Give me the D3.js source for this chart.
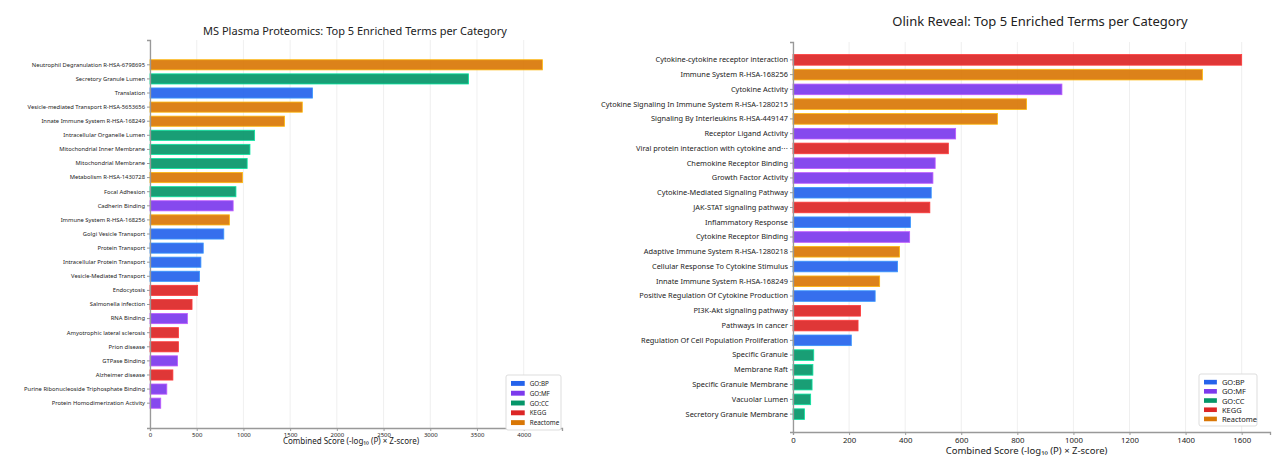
<!DOCTYPE html>
<html><head><meta charset="utf-8">
<script src="https://cdn.jsdelivr.net/npm/d3@7"></script>
<style>body{margin:0;background:#fff;font-family:"Noto Sans",sans-serif}</style>
</head><body><svg id="c" width="1280" height="468"></svg>
<script>
var categories = ["GO:BP","GO:MF","GO:CC","KEGG","Reactome"];
var colors = ["#2563eb","#7c3aed","#059669","#dc2626","#d97706"];

var msTerms = ["Neutrophil Degranulation R-HSA-6798695","Secretory Granule Lumen","Translation","Vesicle-mediated Transport R-HSA-5653656","Innate Immune System R-HSA-168249","Intracellular Organelle Lumen","Mitochondrial Inner Membrane","Mitochondrial Membrane","Metabolism R-HSA-1430728","Focal Adhesion","Cadherin Binding","Immune System R-HSA-168256","Golgi Vesicle Transport","Protein Transport","Intracellular Protein Transport","Vesicle-Mediated Transport","Endocytosis","Salmonella infection","RNA Binding","Amyotrophic lateral sclerosis","Prion disease","GTPase Binding","Alzheimer disease","Purine Ribonucleoside Triphosphate Binding","Protein Homodimerization Activity"];
var msCats = ["Reactome","GO:CC","GO:BP","Reactome","Reactome","GO:CC","GO:CC","GO:CC","Reactome","GO:CC","GO:MF","Reactome","GO:BP","GO:BP","GO:BP","GO:BP","KEGG","KEGG","GO:MF","KEGG","KEGG","GO:MF","KEGG","GO:MF","GO:MF"];
var msScores = [4200,3410,1740,1630,1440,1120,1070,1040,990,920,890,850,790,570,545,530,510,450,400,305,305,295,245,180,115];
var msTicks = [0,500,1000,1500,2000,2500,3000,3500,4000];

var olTerms = ["Cytokine-cytokine receptor interaction","Immune System R-HSA-168256","Cytokine Activity","Cytokine Signaling In Immune System R-HSA-1280215","Signaling By Interleukins R-HSA-449147","Receptor Ligand Activity","Viral protein interaction with cytokine and\u22ef","Chemokine Receptor Binding","Growth Factor Activity","Cytokine-Mediated Signaling Pathway","JAK-STAT signaling pathway","Inflammatory Response","Cytokine Receptor Binding","Adaptive Immune System R-HSA-1280218","Cellular Response To Cytokine Stimulus","Innate Immune System R-HSA-168249","Positive Regulation Of Cytokine Production","PI3K-Akt signaling pathway","Pathways in cancer","Regulation Of Cell Population Proliferation","Specific Granule","Membrane Raft","Specific Granule Membrane","Vacuolar Lumen","Secretory Granule Membrane"];
var olCats = ["KEGG","Reactome","GO:MF","Reactome","Reactome","GO:MF","KEGG","GO:MF","GO:MF","GO:BP","KEGG","GO:BP","GO:MF","Reactome","GO:BP","Reactome","GO:BP","KEGG","KEGG","GO:BP","GO:CC","GO:CC","GO:CC","GO:CC","GO:CC"];
var olScores = [1600,1460,959,833,729,580,554,507,499,493,488,419,416,380,373,309,293,241,232,208,74,71,68,63,41];
var olTicks = [0,200,400,600,800,1000,1200,1400,1600];

var svg = d3.select("#c");
var color = d3.scaleOrdinal().domain(categories).range(colors);

function drawPanel(cfg) {
  var g = svg.append("g");
  var x = d3.scaleLinear().domain([0, cfg.xmax]).range([cfg.left, cfg.right]);
  var y = d3.scaleBand().domain(cfg.terms).range([cfg.top, cfg.bottom])
            .paddingInner(0.28).paddingOuter(cfg.outer);
  g.selectAll(".grid").data(cfg.ticks).enter().append("line")
    .attr("x1", d => x(d)).attr("x2", d => x(d))
    .attr("y1", cfg.top).attr("y2", cfg.bottom)
    .attr("stroke", "#ebebeb").attr("stroke-width", 0.8);
  g.selectAll(".bar").data(cfg.scores).enter().append("rect")
    .attr("x", x(0)).attr("y", (d, i) => y(cfg.terms[i]))
    .attr("width", d => x(d) - x(0)).attr("height", y.bandwidth())
    .attr("fill", (d, i) => color(cfg.cats[i])).attr("fill-opacity", 0.92)
    .attr("stroke", (d, i) => d3.color(color(cfg.cats[i])).brighter(1.2)).attr("stroke-width", 0.8);
  var ya = g.append("g").attr("transform", "translate(" + cfg.left + ",0)")
    .call(d3.axisLeft(y).tickSize(3).tickPadding(2));
  ya.selectAll("text").attr("font-size", cfg.lab).attr("fill", "#222").attr("font-family", "Noto Sans");
  var xa = g.append("g").attr("transform", "translate(0," + cfg.bottom + ")")
    .call(d3.axisBottom(x).tickValues(cfg.ticks).tickFormat(d3.format("d")).tickSize(3).tickPadding(2));
  xa.selectAll("text").attr("font-size", cfg.tick).attr("fill", "#222").attr("font-family", "Noto Sans");
  [ya, xa].forEach(a => { a.select(".domain").attr("stroke", "#999").attr("stroke-width", 1.3); a.selectAll(".tick line").attr("stroke", "#999"); });
  g.append("text").attr("x", (cfg.left + cfg.right) / 2 - 5).attr("y", cfg.bottom + cfg.xtY)
    .attr("text-anchor", "middle").attr("font-size", cfg.xt).attr("fill", "#222")
    .text("Combined Score (-log\u2081\u2080 (P) \u00d7 Z-score)");
  g.append("text").attr("x", cfg.titleX).attr("y", cfg.titleY)
    .attr("text-anchor", "middle").attr("font-size", cfg.title).attr("fill", "#222").text(cfg.name);
  var lg = g.append("g").attr("transform", "translate(" + cfg.legX + "," + cfg.legY + ")");
  lg.append("rect").attr("width", cfg.legW).attr("height", categories.length * cfg.legStep + 6)
    .attr("rx", 2).attr("fill", "#fff").attr("stroke", "#ddd");
  var li = lg.selectAll(".li").data(categories).enter().append("g")
    .attr("transform", (d, i) => "translate(5," + (4 + i * cfg.legStep) + ")");
  li.append("rect").attr("width", cfg.legStep * 1.4).attr("height", cfg.legStep * 0.5).attr("y", cfg.legStep * 0.2)
    .attr("fill", d => color(d));
  li.append("text").attr("x", cfg.legStep * 1.4 + 5).attr("y", cfg.legStep * 0.5).attr("dy", "0.35em")
    .attr("font-size", cfg.legF).attr("fill", "#222").text(d => d);
}

drawPanel({name: "MS Plasma Proteomics: Top 5 Enriched Terms per Category", terms: msTerms, cats: msCats, scores: msScores,
  ticks: msTicks, xmax: 4410, left: 150, right: 562, top: 40, bottom: 428, outer: 1.4,
  lab: 5.8, tick: 6, xt: 8, xtY: 16, title: 11, titleX: 355, titleY: 35,
  legX: 506, legY: 375, legW: 55, legStep: 9.8, legF: 6.3});
drawPanel({name: "Olink Reveal: Top 5 Enriched Terms per Category", terms: olTerms, cats: olCats, scores: olScores,
  ticks: olTicks, xmax: 1701, left: 793, right: 1270, top: 42, bottom: 432, outer: 0.85,
  lab: 7.4, tick: 7.8, xt: 9.5, xtY: 22, title: 13, titleX: 1040, titleY: 26,
  legX: 1199, legY: 374, legW: 58, legStep: 9.2, legF: 7.5});
</script></body></html>
